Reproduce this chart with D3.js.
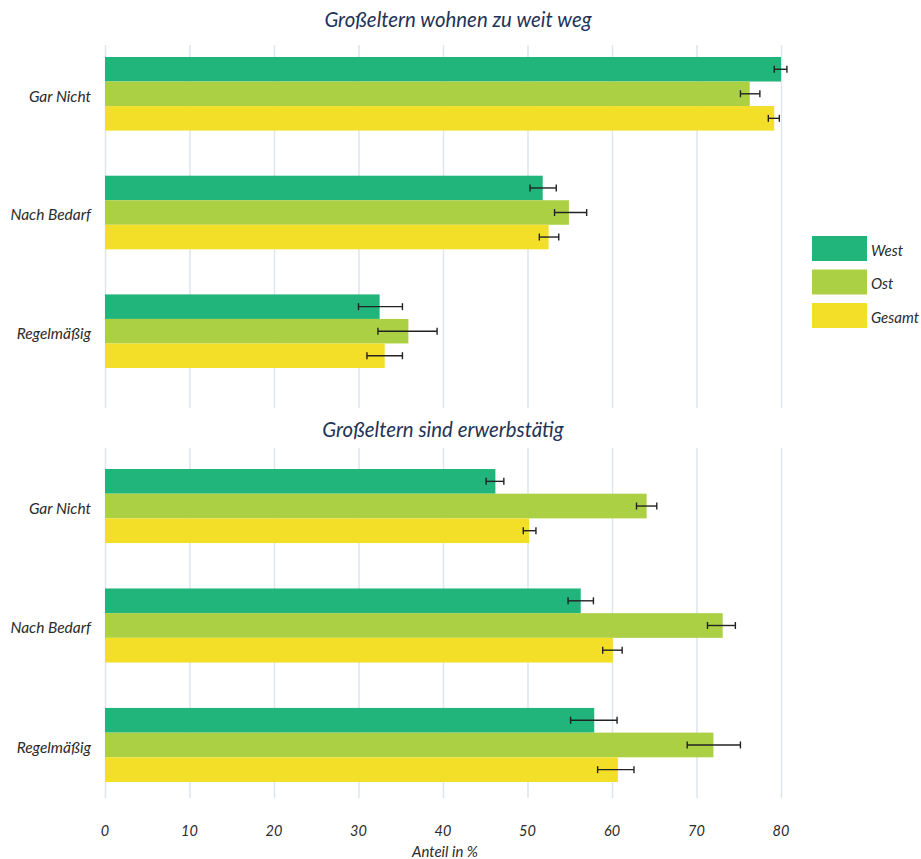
<!DOCTYPE html>
<html><head><meta charset="utf-8">
<script src="https://cdn.jsdelivr.net/npm/d3@7"></script>
<style>body{margin:0;background:#fff}text{font-family:Lato,"Open Sans",sans-serif;font-style:italic}</style>
</head><body><svg id="c" width="921" height="859"></svg>
<script>
const categories = ["Gar Nicht", "Nach Bedarf", "Regelmäßig"];
const seriesNames = ["West", "Ost", "Gesamt"];
const colors = ["#21b47b", "#abd044", "#f3df28"];
const panelTitles = ["Großeltern wohnen zu weit weg", "Großeltern sind erwerbstätig"];
// panel 1: values per category [West, Ost, Gesamt]
const p1Values = [[80.0, 76.3, 79.2], [51.8, 54.9, 52.5], [32.5, 35.9, 33.1]];
const p1Low    = [[79.2, 75.2, 78.5], [50.3, 53.2, 51.4], [30.0, 32.3, 31.0]];
const p1High   = [[80.7, 77.5, 79.8], [53.4, 57.0, 53.7], [35.2, 39.3, 35.2]];
const p2Values = [[46.2, 64.1, 50.2], [56.3, 73.1, 60.1], [57.9, 72.0, 60.7]];
const p2Low    = [[45.1, 62.9, 49.5], [54.8, 71.3, 58.9], [55.1, 68.9, 58.3]];
const p2High   = [[47.2, 65.3, 51.0], [57.8, 74.6, 61.2], [60.6, 75.2, 62.6]];
const xTicks = [0, 10, 20, 30, 40, 50, 60, 70, 80];
const xTitle = "Anteil in %";

const svg = d3.select("#c");
const x = d3.scaleLinear().domain([0, 80]).range([105, 781]);

const panels = [
  {title: panelTitles[0], vals: p1Values, lo: p1Low, hi: p1High, titleX: 458, titleY: 27, grid: [45, 408], bars: [57, 368]},
  {title: panelTitles[1], vals: p2Values, lo: p2Low, hi: p2High, titleX: 443, titleY: 437, grid: [448, 798], bars: [469, 782]}
];

panels.forEach(p => {
  const g = svg.append("g");
  g.append("text").attr("x", p.titleX).attr("y", p.titleY).attr("text-anchor", "middle")
    .attr("font-size", 20.4).attr("fill", "#1f3457").text(p.title);
  g.selectAll("line.grid").data(xTicks).enter().append("line")
    .attr("x1", d => x(d) + 0.5).attr("x2", d => x(d) + 0.5)
    .attr("y1", p.grid[0]).attr("y2", p.grid[1])
    .attr("stroke", "#dde6ec").attr("stroke-width", 1.5);
  const y0 = d3.scaleBand().domain(categories).range(p.bars).paddingInner(0.38).paddingOuter(0);
  const y1 = d3.scaleBand().domain(seriesNames).range([0, y0.bandwidth()]);
  categories.forEach((cat, ci) => {
    const cg = g.append("g").attr("transform", `translate(0,${y0(cat)})`);
    const rows = seriesNames.map((s, si) => ({s, si, v: p.vals[ci][si], lo: p.lo[ci][si], hi: p.hi[ci][si]}));
    cg.selectAll("rect").data(rows).enter().append("rect")
      .attr("x", x(0)).attr("y", d => y1(d.s)).attr("height", y1.bandwidth())
      .attr("width", d => x(d.v) - x(0)).attr("fill", d => colors[d.si]);
    const eb = cg.selectAll("g.eb").data(rows).enter().append("g")
      .attr("stroke", "#222").attr("stroke-width", 1.4);
    eb.append("line").attr("x1", d => x(d.lo)).attr("x2", d => x(d.hi))
      .attr("y1", d => y1(d.s) + y1.bandwidth() / 2).attr("y2", d => y1(d.s) + y1.bandwidth() / 2);
    eb.append("line").attr("x1", d => x(d.lo)).attr("x2", d => x(d.lo))
      .attr("y1", d => y1(d.s) + y1.bandwidth() / 2 - 3.5).attr("y2", d => y1(d.s) + y1.bandwidth() / 2 + 3.5);
    eb.append("line").attr("x1", d => x(d.hi)).attr("x2", d => x(d.hi))
      .attr("y1", d => y1(d.s) + y1.bandwidth() / 2 - 3.5).attr("y2", d => y1(d.s) + y1.bandwidth() / 2 + 3.5);
    cg.append("text").attr("x", 91).attr("y", y0.bandwidth() / 2 + 2.5).attr("dy", "0.35em")
      .attr("text-anchor", "end").attr("font-size", 15.5).attr("fill", "#2b2b2b").text(cat);
  });
});

// x axis tick labels
svg.selectAll("text.tick").data(xTicks).enter().append("text")
  .attr("x", d => x(d)).attr("y", 836).attr("text-anchor", "middle")
  .attr("font-size", 14.5).attr("fill", "#2b2b2b").text(d => d);
svg.append("text").attr("x", 445).attr("y", 857).attr("text-anchor", "middle")
  .attr("font-size", 15).attr("fill", "#2b2b2b").text(xTitle);

// legend
const lg = svg.append("g");
seriesNames.forEach((s, i) => {
  const ly = 236 + i * 33.5;
  lg.append("rect").attr("x", 812).attr("y", ly).attr("width", 55).attr("height", 25).attr("fill", colors[i]);
  lg.append("text").attr("x", 871).attr("y", ly + 14.5).attr("dy", "0.35em")
    .attr("font-size", 15).attr("fill", "#2b2b2b").text(s);
});
</script></body></html>
